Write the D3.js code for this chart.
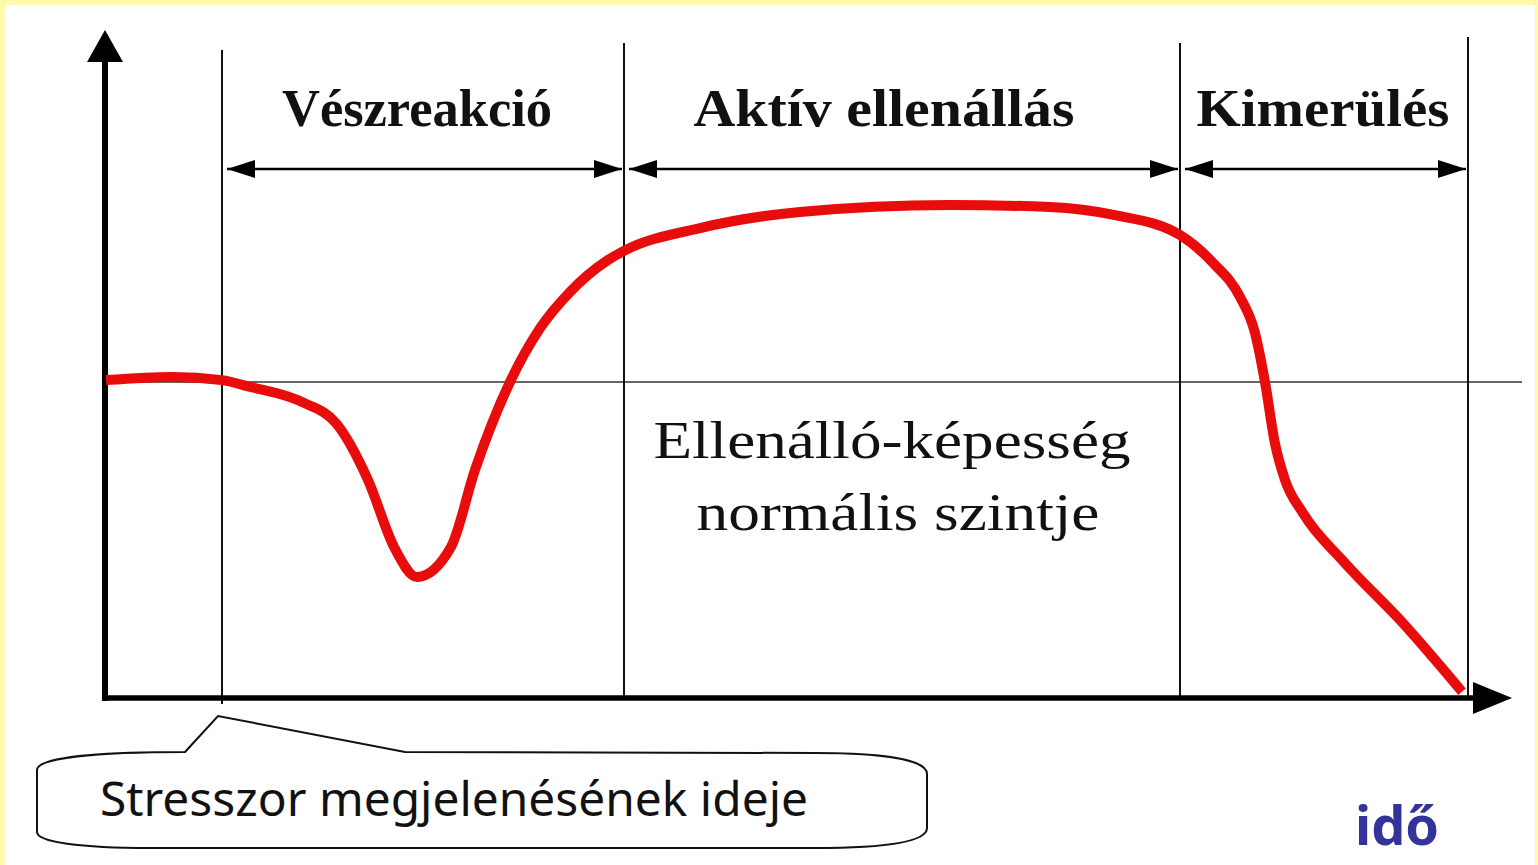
<!DOCTYPE html>
<html>
<head>
<meta charset="utf-8">
<script src="https://cdn.jsdelivr.net/npm/d3@7"></script>
<style>
  body { margin: 0; background: #fff9ad; }
  svg { display: block; }
</style>
</head>
<body>
<svg></svg>
<script>
// resistance level over time (normal level = 100)
const timePoints = [1, 67, 117, 142, 199, 231, 263, 289, 312, 346, 370, 405, 435, 465, 503, 519, 595, 695, 845, 945, 1010, 1075, 1108, 1135, 1150, 1160, 1170, 1180, 1198, 1240, 1295, 1357];
const levelValues = [100.6, 101.6, 100.6, 98.7, 93.4, 87, 69, 47.8, 38.3, 47.8, 72.2, 100, 117, 128.5, 138.6, 141.5, 148.7, 153.8, 156, 155.4, 152.8, 146.5, 137.7, 126.9, 115.5, 100, 80.5, 69, 58.5, 42.7, 24.7, 2];

const phaseNames = ["Vészreakció", "Aktív ellenállás", "Kimerülés"];
const phaseBounds = [117, 519, 1075, 1363];
const normalLevel = 100;
const normalLabel = ["Ellenálló-képesség", "normális szintje"];
const stressorLabel = "Stresszor megjelenésének ideje";
const axisLabel = "idő";

let width = 1538,
  height = 865;

let svg = d3.select("svg").attr("width", width).attr("height", height);

// white sheet inside the yellow frame
svg.append("rect")
  .attr("x", 5).attr("y", 5)
  .attr("width", width - 8).attr("height", height - 5)
  .attr("fill", "#fff");

let x = d3.scaleLinear().domain([0, 1410]).range([105, 1515]);
let y = d3.scaleLinear().domain([0, 100]).range([698, 382]);

let data = timePoints.map((t, i) => ({ t: t, v: levelValues[i] }));

let defs = svg.append("defs");
defs.append("marker")
  .attr("id", "head")
  .attr("viewBox", "0 -9 28 18")
  .attr("refX", 28).attr("refY", 0)
  .attr("markerWidth", 28).attr("markerHeight", 18)
  .attr("markerUnits", "userSpaceOnUse")
  .attr("orient", "auto-start-reverse")
  .append("path")
  .attr("d", "M0,-9 L28,0 L0,9 Z")
  .attr("fill", "#000");

// normal level line
svg.append("line")
  .attr("x1", x(0)).attr("x2", 1522)
  .attr("y1", y(normalLevel)).attr("y2", y(normalLevel))
  .attr("stroke", "#333").attr("stroke-width", 1.5);

// phase boundaries
const boundTops = [50, 43, 43, 37];
svg.append("g")
  .selectAll("line")
  .data(phaseBounds)
  .enter()
  .append("line")
  .attr("x1", (d) => x(d)).attr("x2", (d) => x(d))
  .attr("y1", (d, i) => boundTops[i])
  .attr("y2", (d, i) => (i === 0 ? 704 : 697))
  .attr("stroke", "#111").attr("stroke-width", 2);

// phase spans with double arrows
const phases = phaseNames.map((name, i) => ({ name: name, from: phaseBounds[i], to: phaseBounds[i + 1] }));
const titleShift = [-6, -18, -1];
const titleWidth = [270, 381, 253];

svg.append("g")
  .selectAll("line")
  .data(phases)
  .enter()
  .append("line")
  .attr("x1", (d) => x(d.from) + 5)
  .attr("x2", (d) => x(d.to) - 2)
  .attr("y1", 169).attr("y2", 169)
  .attr("stroke", "#000").attr("stroke-width", 2.5)
  .attr("marker-start", "url(#head)")
  .attr("marker-end", "url(#head)");

svg.append("g")
  .selectAll("text")
  .data(phases)
  .enter()
  .append("text")
  .attr("x", (d, i) => (x(d.from) + x(d.to)) / 2 + titleShift[i])
  .attr("y", 126)
  .attr("text-anchor", "middle")
  .attr("textLength", (d, i) => titleWidth[i])
  .attr("lengthAdjust", "spacingAndGlyphs")
  .style("font-family", "'Liberation Serif', 'Times New Roman', serif")
  .style("font-weight", "bold")
  .style("font-size", "53px")
  .attr("fill", "#111")
  .text((d) => d.name);

// normal level label
const labelWidth = [477, 403];
svg.append("g")
  .selectAll("text")
  .data(normalLabel)
  .enter()
  .append("text")
  .attr("x", (d, i) => 892 + i * 6)
  .attr("y", (d, i) => 458 + i * 72)
  .attr("text-anchor", "middle")
  .attr("textLength", (d, i) => labelWidth[i])
  .attr("lengthAdjust", "spacingAndGlyphs")
  .style("font-family", "'Liberation Serif', 'Times New Roman', serif")
  .style("font-size", "52px")
  .attr("fill", "#111")
  .text((d) => d);

// axes
svg.append("line")
  .attr("x1", x(0)).attr("x2", x(0))
  .attr("y1", 701).attr("y2", 60)
  .attr("stroke", "#000").attr("stroke-width", 6);
svg.append("path")
  .attr("d", `M${x(0)},30 L${x(0) - 18},62 L${x(0) + 18},62 Z`)
  .attr("fill", "#000");
svg.append("line")
  .attr("x1", x(0) - 2).attr("x2", 1480)
  .attr("y1", y(0)).attr("y2", y(0))
  .attr("stroke", "#000").attr("stroke-width", 5.5);
svg.append("path")
  .attr("d", `M1512,${y(0)} L1473,${y(0) - 16} L1473,${y(0) + 16} Z`)
  .attr("fill", "#000");

// resistance curve
let line = d3.line()
  .x((d) => x(d.t))
  .y((d) => y(d.v))
  .curve(d3.curveMonotoneX);

svg.append("path")
  .datum(data)
  .attr("d", line)
  .attr("fill", "none")
  .attr("stroke", "#e80c0c")
  .attr("stroke-width", 10)
  .attr("stroke-linecap", "butt")
  .attr("stroke-linejoin", "round");

// callout bubble pointing at the stressor time
let tipX = x(phaseBounds[0]) - 4;
let bubble = d3.path();
bubble.moveTo(185, 752);
bubble.lineTo(tipX, 716);
bubble.lineTo(405, 752);
bubble.lineTo(815, 753);
bubble.bezierCurveTo(885, 753, 927, 760, 927, 774);
bubble.lineTo(927, 828);
bubble.bezierCurveTo(927, 842, 885, 848, 815, 848);
bubble.lineTo(150, 848);
bubble.bezierCurveTo(80, 848, 37, 842, 37, 832);
bubble.lineTo(37, 770);
bubble.bezierCurveTo(37, 758, 95, 752, 185, 752);
bubble.closePath();

svg.append("path")
  .attr("d", bubble.toString())
  .attr("fill", "#fff")
  .attr("stroke", "#111")
  .attr("stroke-width", 2);

svg.append("text")
  .attr("x", 100)
  .attr("y", 816)
  .attr("textLength", 708)
  .attr("lengthAdjust", "spacingAndGlyphs")
  .style("font-family", "'Comic Sans MS', 'Noto Sans', sans-serif")
  .style("font-size", "48px")
  .attr("fill", "#111")
  .text(stressorLabel);

svg.append("text")
  .attr("x", 1397)
  .attr("y", 845)
  .attr("text-anchor", "middle")
  .style("font-family", "'Noto Sans', 'Open Sans', sans-serif")
  .style("font-weight", "bold")
  .style("font-size", "54px")
  .attr("fill", "#333399")
  .text(axisLabel);
</script>
</body>
</html>
